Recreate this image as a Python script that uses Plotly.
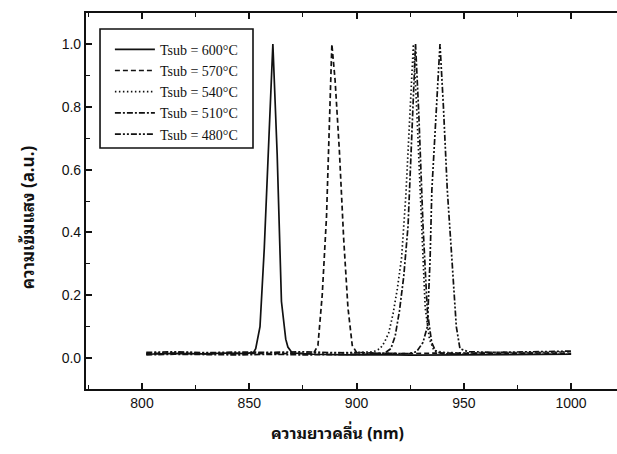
import plotly.graph_objects as go

# Wavelength (nm) / normalised intensity
x600 = [802, 815, 828, 840, 848, 852, 853, 855, 857, 859, 861, 863, 865, 867, 868, 870, 880, 895, 910, 925, 940, 955, 970, 985, 1000]
y600 = [0.012, 0.015, 0.013, 0.016, 0.014, 0.018, 0.03, 0.1, 0.35, 0.7, 1.0, 0.65, 0.18, 0.06, 0.035, 0.016, 0.012, 0.01, 0.011, 0.009, 0.01, 0.011, 0.012, 0.011, 0.012]

x570 = [802, 815, 830, 845, 860, 872, 880, 882, 884, 886, 888, 888.5, 890, 892, 894, 896, 898, 900, 910, 925, 940, 955, 970, 985, 1000]
y570 = [0.014, 0.016, 0.013, 0.015, 0.014, 0.016, 0.015, 0.04, 0.2, 0.45, 0.92, 1.0, 0.885, 0.66, 0.38, 0.16, 0.04, 0.018, 0.015, 0.014, 0.016, 0.015, 0.014, 0.016, 0.015]

x540 = [802, 815, 830, 845, 860, 875, 890, 900, 908, 911, 913, 915, 917, 919, 921, 923, 925, 926.5, 928, 930, 932, 934, 936, 940, 950, 965, 980, 1000]
y540 = [0.015, 0.018, 0.016, 0.014, 0.017, 0.015, 0.016, 0.018, 0.02, 0.03, 0.05, 0.08, 0.14, 0.22, 0.32, 0.52, 0.8, 1.0, 0.8, 0.45, 0.16, 0.06, 0.025, 0.018, 0.016, 0.018, 0.017, 0.02]

x510 = [802, 815, 830, 845, 860, 875, 890, 905, 913, 916, 918, 920, 922, 924, 926, 927.5, 929, 931, 933, 935, 937, 940, 950, 965, 980, 1000]
y510 = [0.01, 0.012, 0.011, 0.01, 0.012, 0.01, 0.011, 0.012, 0.015, 0.03, 0.07, 0.15, 0.26, 0.42, 0.75, 1.0, 0.78, 0.42, 0.15, 0.05, 0.02, 0.014, 0.012, 0.011, 0.012, 0.012]

x480 = [802, 815, 830, 845, 860, 875, 890, 905, 915, 924, 928, 931, 933, 934.3, 935.1, 937, 938.9, 940.5, 942.3, 944.4, 946.5, 948.2, 952, 965, 980, 1000]
y480 = [0.018, 0.02, 0.017, 0.019, 0.018, 0.02, 0.017, 0.016, 0.015, 0.014, 0.02, 0.05, 0.1, 0.32, 0.535, 0.78, 1.0, 0.8, 0.535, 0.32, 0.1, 0.03, 0.02, 0.018, 0.02, 0.022]

series_names = ["Tsub = 600°C", "Tsub = 570°C", "Tsub = 540°C", "Tsub = 510°C", "Tsub = 480°C"]
x_ticks = [800, 850, 900, 950, 1000]
y_ticks = [0.0, 0.2, 0.4, 0.6, 0.8, 1.0]

xs = [x600, x570, x540, x510, x480]
ys = [y600, y570, y540, y510, y480]
dashes = ["solid", "5px,3px", "1.5px,2.5px", "6px,2px,2px,2px", "6px,2px,2px,2px,2px,2px"]

fig = go.Figure()
for xv, yv, nm, ds in zip(xs, ys, series_names, dashes):
    fig.add_trace(go.Scatter(x=xv, y=yv, mode="lines", name=nm,
                             line=dict(color="#111", width=1.7, dash=ds)))

thai = "Noto Sans Thai Looped, Noto Serif Thai, Loma, Garuda, Norasi, Noto Sans Thai, sans-serif"
tickfont = dict(family="Liberation Sans, Arial, sans-serif", size=14, color="#111")

fig.update_layout(
    width=617, height=454,
    margin=dict(l=86, r=0, t=13, b=65),
    paper_bgcolor="white", plot_bgcolor="white",
    showlegend=True,
    legend=dict(x=0.045, y=0.945, xanchor="left", yanchor="top",
                bgcolor="rgba(0,0,0,0)", borderwidth=0, itemwidth=40,
                font=dict(family="Liberation Serif, Times New Roman, serif", size=14, color="#111"),
                tracegroupgap=0),
    xaxis=dict(range=[773.9, 1021.4], tickvals=x_ticks, ticks="inside", ticklen=6, tickwidth=1.6,
               tickcolor="#111", showline=True, linewidth=2.2, linecolor="#111", mirror="allticks",
               showgrid=False, zeroline=False, tickfont=tickfont,
               minor=dict(dtick=25, tick0=800, ticks="inside", ticklen=4, tickwidth=1.3, tickcolor="#111")),
    yaxis=dict(range=[-0.0987, 1.099], tickvals=y_ticks, tickformat=".1f", ticks="inside", ticklen=6,
               tickwidth=1.6, tickcolor="#111", showline=True, linewidth=2.2, linecolor="#111", mirror=False,
               showgrid=False, zeroline=False, tickfont=tickfont,
               minor=dict(dtick=0.1, tick0=0, ticks="inside", ticklen=4, tickwidth=1.3, tickcolor="#111")),
    shapes=[dict(type="rect", xref="paper", yref="paper", x0=0.0264, x1=0.3145, y0=0.641, y1=0.9574,
                 line=dict(color="#111", width=1.6), fillcolor="rgba(0,0,0,0)")],
    annotations=[
        dict(text="<b>ความยาวคลื่น (nm)</b>", xref="paper", yref="paper", x=0.473, y=-0.114,
             showarrow=False, xanchor="center", yanchor="middle",
             font=dict(family=thai, size=16, color="#111")),
        dict(text="<b>ความเข้มแสง (a.u.)</b>", xref="paper", yref="paper", x=-0.113, y=0.457,
             showarrow=False, xanchor="center", yanchor="middle", textangle=-90,
             font=dict(family=thai, size=17, color="#111")),
    ],
)

fig.write_html("out.html")
